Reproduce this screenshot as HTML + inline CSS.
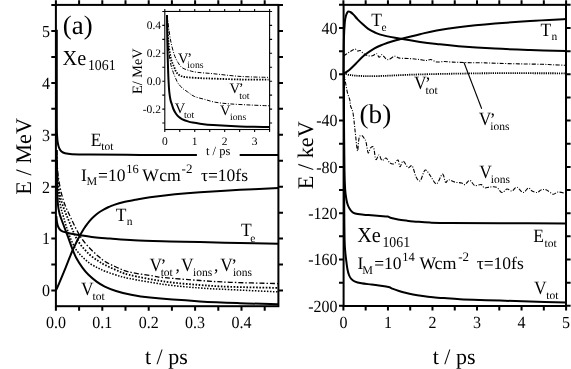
<!DOCTYPE html>
<html><head><meta charset="utf-8"><style>
html,body{margin:0;padding:0;background:#fff;}
svg{display:block;will-change:transform;}
text{font-family:"Liberation Serif",serif;fill:#000;white-space:pre;text-rendering:geometricPrecision;}
</style></head><body>
<svg width="571" height="369" viewBox="0 0 571 369">
<rect width="571" height="369" fill="#fff"/>
<rect x="55.90" y="4.90" width="222.50" height="301.30" fill="none" stroke="#000" stroke-width="2.00"/>
<path d="M55.90,4.90V0.30M55.90,306.20V310.80M79.10,4.90V0.30M79.10,306.20V310.80M102.30,4.90V0.30M102.30,306.20V310.80M125.50,4.90V0.30M125.50,306.20V310.80M148.70,4.90V0.30M148.70,306.20V310.80M171.90,4.90V0.30M171.90,306.20V310.80M195.10,4.90V0.30M195.10,306.20V310.80M218.30,4.90V0.30M218.30,306.20V310.80M241.50,4.90V0.30M241.50,306.20V310.80M264.70,4.90V0.30M264.70,306.20V310.80M55.90,290.50H51.30M278.40,290.50H283.00M55.90,264.55H51.30M278.40,264.55H283.00M55.90,238.60H51.30M278.40,238.60H283.00M55.90,212.65H51.30M278.40,212.65H283.00M55.90,186.70H51.30M278.40,186.70H283.00M55.90,160.75H51.30M278.40,160.75H283.00M55.90,134.80H51.30M278.40,134.80H283.00M55.90,108.85H51.30M278.40,108.85H283.00M55.90,82.90H51.30M278.40,82.90H283.00M55.90,56.95H51.30M278.40,56.95H283.00M55.90,31.00H51.30M278.40,31.00H283.00M55.90,5.05H51.30M278.40,5.05H283.00" stroke="#000" stroke-width="2.00" fill="none"/>
<rect x="343.60" y="4.85" width="222.40" height="301.15" fill="none" stroke="#000" stroke-width="2.00"/>
<path d="M343.40,4.85V0.25M343.40,306.00V310.60M365.67,4.85V0.25M365.67,306.00V310.60M387.94,4.85V0.25M387.94,306.00V310.60M410.21,4.85V0.25M410.21,306.00V310.60M432.48,4.85V0.25M432.48,306.00V310.60M454.75,4.85V0.25M454.75,306.00V310.60M477.02,4.85V0.25M477.02,306.00V310.60M499.29,4.85V0.25M499.29,306.00V310.60M521.56,4.85V0.25M521.56,306.00V310.60M543.83,4.85V0.25M543.83,306.00V310.60M566.10,4.85V0.25M566.10,306.00V310.60M343.60,4.85H339.00M566.00,4.85H570.60M343.60,28.00H339.00M566.00,28.00H570.60M343.60,51.15H339.00M566.00,51.15H570.60M343.60,74.30H339.00M566.00,74.30H570.60M343.60,97.45H339.00M566.00,97.45H570.60M343.60,120.60H339.00M566.00,120.60H570.60M343.60,143.75H339.00M566.00,143.75H570.60M343.60,166.90H339.00M566.00,166.90H570.60M343.60,190.05H339.00M566.00,190.05H570.60M343.60,213.20H339.00M566.00,213.20H570.60M343.60,236.35H339.00M566.00,236.35H570.60M343.60,259.50H339.00M566.00,259.50H570.60M343.60,282.65H339.00M566.00,282.65H570.60M343.60,305.80H339.00M566.00,305.80H570.60" stroke="#000" stroke-width="2.00" fill="none"/>
<path d="M56.80,29.80 C56.80,44.83 56.75,102.30 56.80,120.00 C56.85,137.70 56.93,132.17 57.10,136.00 C57.27,139.83 57.45,140.97 57.80,143.00 C58.15,145.03 58.58,146.77 59.20,148.20 C59.82,149.63 60.53,150.75 61.50,151.60 C62.47,152.45 63.25,152.87 65.00,153.30 C66.75,153.73 67.83,153.98 72.00,154.20 C76.17,154.42 78.67,154.48 90.00,154.60 C101.33,154.72 122.18,154.83 140.00,154.90 C157.82,154.97 187.42,154.98 196.90,155.00" fill="none" stroke="#000" stroke-width="2.00" stroke-linejoin="round"/>
<path d="M239.70,155.00 L278.40,155.00" fill="none" stroke="#000" stroke-width="2.00" stroke-linejoin="round"/>
<path d="M56.30,216.00 C56.42,217.08 56.67,220.67 57.00,222.50 C57.33,224.33 57.75,225.75 58.30,227.00 C58.85,228.25 59.52,229.23 60.30,230.00 C61.08,230.77 61.38,231.03 63.00,231.60 C64.62,232.17 67.17,232.80 70.00,233.40 C72.83,234.00 76.00,234.55 80.00,235.20 C84.00,235.85 89.00,236.73 94.00,237.30 C99.00,237.87 103.33,238.10 110.00,238.60 C116.67,239.10 124.00,239.83 134.00,240.30 C144.00,240.77 159.00,241.10 170.00,241.40 C181.00,241.70 188.33,241.83 200.00,242.10 C211.67,242.37 226.93,242.72 240.00,243.00 C253.07,243.28 272.00,243.67 278.40,243.80" fill="none" stroke="#000" stroke-width="2.00" stroke-linejoin="round"/>
<path d="M55.90,290.40 C56.13,289.92 56.73,288.77 57.30,287.50 C57.87,286.23 58.23,285.33 59.30,282.80 C60.37,280.27 62.23,275.87 63.70,272.30 C65.17,268.73 66.67,264.95 68.10,261.40 C69.53,257.85 70.93,254.15 72.30,251.00 C73.67,247.85 75.17,244.83 76.30,242.50 C77.43,240.17 77.97,239.08 79.10,237.00 C80.23,234.92 82.12,231.65 83.10,230.00 C84.08,228.35 83.90,228.63 85.00,227.10 C86.10,225.57 88.12,222.65 89.70,220.80 C91.28,218.95 92.92,217.43 94.50,216.00 C96.08,214.57 97.62,213.32 99.20,212.20 C100.78,211.08 102.42,210.17 104.00,209.30 C105.58,208.43 107.12,207.70 108.70,207.00 C110.28,206.30 111.12,205.90 113.50,205.10 C115.88,204.30 119.42,203.08 123.00,202.20 C126.58,201.32 130.50,200.62 135.00,199.80 C139.50,198.98 143.33,198.22 150.00,197.30 C156.67,196.38 166.67,195.15 175.00,194.30 C183.33,193.45 189.17,192.95 200.00,192.20 C210.83,191.45 226.93,190.48 240.00,189.80 C253.07,189.12 272.00,188.38 278.40,188.10" fill="none" stroke="#000" stroke-width="2.00" stroke-linejoin="round"/>
<path d="M56.70,150.00 C56.78,156.67 56.98,180.83 57.20,190.00 C57.42,199.17 57.62,201.08 58.00,205.00 C58.38,208.92 58.92,211.08 59.50,213.50 C60.08,215.92 60.73,217.33 61.50,219.50 C62.27,221.67 62.98,223.52 64.10,226.50 C65.22,229.48 66.83,233.68 68.20,237.40 C69.57,241.12 70.95,245.37 72.30,248.80 C73.65,252.23 74.62,254.87 76.30,258.00 C77.98,261.13 80.37,264.80 82.40,267.60 C84.43,270.40 86.13,272.47 88.50,274.80 C90.87,277.13 93.88,279.63 96.60,281.60 C99.32,283.57 101.57,285.03 104.80,286.60 C108.03,288.17 111.80,289.67 116.00,291.00 C120.20,292.33 124.33,293.50 130.00,294.60 C135.67,295.70 138.33,296.47 150.00,297.60 C161.67,298.73 185.00,300.47 200.00,301.40 C215.00,302.33 226.93,302.73 240.00,303.20 C253.07,303.67 272.00,304.03 278.40,304.20" fill="none" stroke="#000" stroke-width="2.00" stroke-linejoin="round"/>
<path d="M56.80,150.00 C56.93,153.33 57.18,164.50 57.60,170.00 C58.02,175.50 58.60,178.83 59.30,183.00 C60.00,187.17 60.85,191.33 61.80,195.00 C62.75,198.67 63.80,201.83 65.00,205.00 C66.20,208.17 67.67,211.08 69.00,214.00 C70.33,216.92 71.67,219.75 73.00,222.50 C74.33,225.25 75.50,227.75 77.00,230.50 C78.50,233.25 79.83,236.00 82.00,239.00 C84.17,242.00 87.33,245.67 90.00,248.50 C92.67,251.33 95.50,253.83 98.00,256.00 C100.50,258.17 102.00,259.67 105.00,261.50 C108.00,263.33 111.93,265.25 116.00,267.00 C120.07,268.75 123.10,270.48 129.40,272.00 C135.70,273.52 147.87,275.15 153.80,276.10 C159.73,277.05 157.30,276.97 165.00,277.70 C172.70,278.43 189.17,279.73 200.00,280.50 C210.83,281.27 216.93,281.78 230.00,282.30 C243.07,282.82 270.33,283.38 278.40,283.60" fill="none" stroke="#000" stroke-width="1.30" stroke-dasharray="5,2,1.5,2" stroke-linejoin="round"/>
<path d="M56.80,160.00 C56.93,162.83 57.18,171.67 57.60,177.00 C58.02,182.33 58.60,187.75 59.30,192.00 C60.00,196.25 60.85,199.25 61.80,202.50 C62.75,205.75 63.88,208.58 65.00,211.50 C66.12,214.42 67.33,217.17 68.50,220.00 C69.67,222.83 70.75,225.58 72.00,228.50 C73.25,231.42 74.33,234.50 76.00,237.50 C77.67,240.50 79.67,243.58 82.00,246.50 C84.33,249.42 87.33,252.62 90.00,255.00 C92.67,257.38 95.50,259.13 98.00,260.80 C100.50,262.47 102.00,263.47 105.00,265.00 C108.00,266.53 111.93,268.35 116.00,270.00 C120.07,271.65 121.23,272.97 129.40,274.90 C137.57,276.83 153.23,279.92 165.00,281.60 C176.77,283.28 189.17,284.13 200.00,285.00 C210.83,285.87 216.93,286.32 230.00,286.80 C243.07,287.28 270.33,287.72 278.40,287.90" fill="none" stroke="#000" stroke-width="1.80" stroke-dasharray="1.6,1.6" stroke-linejoin="round"/>
<path d="M56.80,165.00 C56.93,167.83 57.23,176.67 57.60,182.00 C57.97,187.33 58.43,192.67 59.00,197.00 C59.57,201.33 60.25,204.67 61.00,208.00 C61.75,211.33 62.50,213.58 63.50,217.00 C64.50,220.42 65.72,224.67 67.00,228.50 C68.28,232.33 69.70,236.50 71.20,240.00 C72.70,243.50 74.20,246.75 76.00,249.50 C77.80,252.25 79.67,254.17 82.00,256.50 C84.33,258.83 87.33,261.58 90.00,263.50 C92.67,265.42 95.50,266.72 98.00,268.00 C100.50,269.28 102.00,270.03 105.00,271.20 C108.00,272.37 111.93,273.78 116.00,275.00 C120.07,276.22 121.23,276.90 129.40,278.50 C137.57,280.10 153.23,283.02 165.00,284.60 C176.77,286.18 189.17,287.17 200.00,288.00 C210.83,288.83 216.93,288.95 230.00,289.60 C243.07,290.25 270.33,291.52 278.40,291.90" fill="none" stroke="#000" stroke-width="1.50" stroke-dasharray="1.5,1.5" stroke-linejoin="round"/>
<rect x="128" y="7" width="145" height="140" fill="#fff"/>
<rect x="198" y="146" width="41" height="12" fill="#fff"/>
<rect x="164.80" y="11.45" width="104.80" height="118.05" fill="none" stroke="#000" stroke-width="1.10"/><path d="M164.80,11.45V8.95M164.80,129.50V132.00M179.77,11.45V8.95M179.77,129.50V132.00M194.74,11.45V8.95M194.74,129.50V132.00M209.71,11.45V8.95M209.71,129.50V132.00M224.68,11.45V8.95M224.68,129.50V132.00M239.65,11.45V8.95M239.65,129.50V132.00M254.62,11.45V8.95M254.62,129.50V132.00M269.59,11.45V8.95M269.59,129.50V132.00M164.80,11.45H162.30M269.60,11.45H272.10M164.80,25.40H162.30M269.60,25.40H272.10M164.80,39.35H162.30M269.60,39.35H272.10M164.80,53.30H162.30M269.60,53.30H272.10M164.80,67.25H162.30M269.60,67.25H272.10M164.80,81.20H162.30M269.60,81.20H272.10M164.80,95.15H162.30M269.60,95.15H272.10M164.80,109.10H162.30M269.60,109.10H272.10M164.80,123.05H162.30M269.60,123.05H272.10" stroke="#000" stroke-width="1.10" fill="none"/>
<path d="M167.00,15.00 C167.05,19.17 167.17,32.50 167.30,40.00 C167.43,47.50 167.60,53.33 167.80,60.00 C168.00,66.67 168.25,74.67 168.50,80.00 C168.75,85.33 168.97,88.67 169.30,92.00 C169.63,95.33 170.05,97.87 170.50,100.00 C170.95,102.13 171.52,103.30 172.00,104.80 C172.48,106.30 172.73,107.50 173.40,109.00 C174.07,110.50 175.08,112.47 176.00,113.80 C176.92,115.13 177.92,116.12 178.90,117.00 C179.88,117.88 180.40,118.37 181.90,119.10 C183.40,119.83 186.10,120.82 187.90,121.40 C189.70,121.98 190.68,122.22 192.70,122.60 C194.72,122.98 196.60,123.30 200.00,123.70 C203.40,124.10 206.43,124.55 213.10,125.00 C219.77,125.45 230.63,126.05 240.00,126.40 C249.37,126.75 264.42,126.98 269.30,127.10" fill="none" stroke="#000" stroke-width="2.00" stroke-linejoin="round"/>
<path d="M166.90,15.00 C167.08,19.58 167.43,34.67 168.00,42.50 C168.57,50.33 169.42,57.00 170.30,62.00 C171.18,67.00 172.28,69.50 173.30,72.50 C174.32,75.50 175.63,78.25 176.40,80.00 C177.17,81.75 176.90,81.63 177.90,83.00 C178.90,84.37 180.78,86.72 182.40,88.20 C184.02,89.68 185.62,90.53 187.60,91.90 C189.58,93.27 191.45,95.15 194.30,96.40 C197.15,97.65 201.23,98.43 204.70,99.40 C208.17,100.37 210.88,101.45 215.10,102.20 C219.32,102.95 224.18,103.43 230.00,103.90 C235.82,104.37 243.45,104.68 250.00,105.00 C256.55,105.32 266.08,105.67 269.30,105.80" fill="none" stroke="#000" stroke-width="1.00" stroke-dasharray="4,1.5,1,1.5" stroke-linejoin="round"/>
<path d="M166.90,15.00 C167.17,19.58 167.82,35.20 168.50,42.50 C169.18,49.80 170.05,54.72 171.00,58.80 C171.95,62.88 173.32,64.80 174.20,67.00 C175.08,69.20 175.33,70.58 176.30,72.00 C177.27,73.42 178.42,74.65 180.00,75.50 C181.58,76.35 182.30,76.65 185.80,77.10 C189.30,77.55 196.45,77.95 201.00,78.20 C205.55,78.45 206.60,78.38 213.10,78.60 C219.60,78.82 230.77,79.33 240.00,79.50 C249.23,79.67 263.75,79.58 268.50,79.60" fill="none" stroke="#000" stroke-width="1.80" stroke-dasharray="1.5,1.3" stroke-linejoin="round"/>
<path d="M166.90,15.00 C167.25,17.50 168.32,25.42 169.00,30.00 C169.68,34.58 170.10,38.33 171.00,42.50 C171.90,46.67 173.23,51.67 174.40,55.00 C175.57,58.33 176.73,60.40 178.00,62.50 C179.27,64.60 180.17,66.27 182.00,67.60 C183.83,68.93 186.47,69.72 189.00,70.50 C191.53,71.28 193.18,71.77 197.20,72.30 C201.22,72.83 205.97,73.02 213.10,73.70 C220.23,74.38 230.77,75.78 240.00,76.40 C249.23,77.02 263.75,77.23 268.50,77.40" fill="none" stroke="#000" stroke-width="1.00" stroke-dasharray="4,1.5,1,1.5" stroke-linejoin="round"/>
<path d="M343.50,73.70 C343.57,68.08 343.68,48.53 343.90,40.00 C344.12,31.47 344.45,26.58 344.80,22.50 C345.15,18.42 345.47,17.32 346.00,15.50 C346.53,13.68 347.28,12.18 348.00,11.60 C348.72,11.02 349.38,11.50 350.30,12.00 C351.22,12.50 352.32,13.42 353.50,14.60 C354.68,15.78 355.98,17.62 357.40,19.10 C358.82,20.58 360.20,21.87 362.00,23.50 C363.80,25.13 366.03,27.40 368.20,28.90 C370.37,30.40 372.47,31.42 375.00,32.50 C377.53,33.58 379.12,34.35 383.40,35.40 C387.68,36.45 394.60,37.72 400.70,38.80 C406.80,39.88 414.00,41.03 420.00,41.90 C426.00,42.77 430.30,43.28 436.70,44.00 C443.10,44.72 448.68,45.43 458.40,46.20 C468.12,46.97 483.07,47.97 495.00,48.60 C506.93,49.23 518.20,49.60 530.00,50.00 C541.80,50.40 559.83,50.83 565.80,51.00" fill="none" stroke="#000" stroke-width="2.00" stroke-linejoin="round"/>
<path d="M343.50,73.70 C344.47,73.08 347.22,71.70 349.30,70.00 C351.38,68.30 353.55,65.90 356.00,63.50 C358.45,61.10 360.92,58.13 364.00,55.60 C367.08,53.07 371.27,50.17 374.50,48.30 C377.73,46.43 380.25,45.62 383.40,44.40 C386.55,43.18 390.52,41.90 393.40,41.00 C396.28,40.10 396.27,40.13 400.70,39.00 C405.13,37.87 414.00,35.62 420.00,34.20 C426.00,32.78 430.30,31.65 436.70,30.50 C443.10,29.35 448.68,28.45 458.40,27.30 C468.12,26.15 483.07,24.65 495.00,23.60 C506.93,22.55 518.20,21.75 530.00,21.00 C541.80,20.25 559.83,19.42 565.80,19.10" fill="none" stroke="#000" stroke-width="2.00" stroke-linejoin="round"/>
<path d="M343.80,56.00 C344.25,55.67 345.58,54.65 346.50,54.00 C347.42,53.35 348.38,52.68 349.30,52.10 C350.22,51.52 351.03,51.02 352.00,50.50 C352.97,49.98 354.15,48.92 355.10,49.00 C356.05,49.08 356.83,50.75 357.70,51.00 C358.57,51.25 359.42,50.15 360.30,50.50 C361.18,50.85 362.13,52.38 363.00,53.10 C363.87,53.82 364.63,54.35 365.50,54.80 C366.37,55.25 367.05,55.63 368.20,55.80 C369.35,55.97 371.00,56.15 372.40,55.80 C373.80,55.45 375.47,53.45 376.60,53.70 C377.73,53.95 378.32,57.13 379.20,57.30 C380.08,57.47 380.75,54.43 381.90,54.70 C383.05,54.97 384.88,58.12 386.10,58.90 C387.32,59.68 387.80,59.83 389.20,59.40 C390.60,58.97 392.92,56.55 394.50,56.30 C396.08,56.05 397.53,57.57 398.70,57.90 C399.87,58.23 399.95,58.20 401.50,58.30 C403.05,58.40 405.80,58.38 408.00,58.50 C410.20,58.62 412.70,58.82 414.70,59.00 C416.70,59.18 418.03,59.35 420.00,59.60 C421.97,59.85 424.68,60.52 426.50,60.50 C428.32,60.48 429.18,59.25 430.90,59.50 C432.62,59.75 434.60,61.67 436.80,62.00 C439.00,62.33 441.73,61.50 444.10,61.50 C446.47,61.50 448.55,61.87 451.00,62.00 C453.45,62.13 455.53,62.18 458.80,62.30 C462.07,62.42 466.48,62.62 470.60,62.70 C474.72,62.78 479.10,62.70 483.50,62.80 C487.90,62.90 492.23,63.15 497.00,63.30 C501.77,63.45 507.10,63.58 512.10,63.70 C517.10,63.82 521.98,63.90 527.00,64.00 C532.02,64.10 537.87,64.17 542.20,64.30 C546.53,64.43 549.07,64.63 553.00,64.80 C556.93,64.97 563.67,65.22 565.80,65.30" fill="none" stroke="#000" stroke-width="1.10" stroke-dasharray="4,1.5,1,1.5" stroke-linejoin="round"/>
<path d="M343.60,73.20 C344.50,73.47 347.10,74.40 349.00,74.80 C350.90,75.20 352.17,75.38 355.00,75.60 C357.83,75.82 361.83,76.03 366.00,76.10 C370.17,76.17 375.17,76.12 380.00,76.00 C384.83,75.88 388.33,75.67 395.00,75.40 C401.67,75.13 409.17,74.70 420.00,74.40 C430.83,74.10 447.50,73.80 460.00,73.60 C472.50,73.40 477.37,73.25 495.00,73.20 C512.63,73.15 554.00,73.28 565.80,73.30" fill="none" stroke="#000" stroke-width="1.80" stroke-dasharray="1.2,1.0" stroke-linejoin="round"/>
<path d="M344.10,73.80 C344.32,75.17 344.85,78.88 345.40,82.00 C345.95,85.12 346.67,89.50 347.40,92.50 C348.13,95.50 349.27,97.75 349.80,100.00 C350.33,102.25 350.07,103.83 350.60,106.00 C351.13,108.17 352.27,109.00 353.00,113.00 C353.73,117.00 354.27,123.72 355.00,130.00 C355.73,136.28 356.82,148.70 357.40,150.70 C357.98,152.70 358.15,144.35 358.50,142.00 C358.85,139.65 358.97,137.68 359.50,136.60 C360.03,135.52 360.95,135.27 361.70,135.50 C362.45,135.73 363.28,136.92 364.00,138.00 C364.72,139.08 365.30,139.52 366.00,142.00 C366.70,144.48 367.45,151.90 368.20,152.90 C368.95,153.90 369.60,148.90 370.50,148.00 C371.40,147.10 372.72,145.60 373.60,147.50 C374.48,149.40 374.90,158.15 375.80,159.40 C376.70,160.65 377.97,154.82 379.00,155.00 C380.03,155.18 380.83,160.00 382.00,160.50 C383.17,161.00 384.67,157.58 386.00,158.00 C387.33,158.42 388.63,162.03 390.00,163.00 C391.37,163.97 392.87,164.30 394.20,163.80 C395.53,163.30 397.03,159.50 398.00,160.00 C398.97,160.50 399.13,166.62 400.00,166.80 C400.87,166.98 401.87,160.97 403.20,161.10 C404.53,161.23 406.50,166.78 408.00,167.60 C409.50,168.42 410.83,164.38 412.20,166.00 C413.57,167.62 414.85,174.87 416.20,177.30 C417.55,179.73 418.80,181.82 420.30,180.60 C421.80,179.38 423.45,170.68 425.20,170.00 C426.95,169.32 428.92,174.20 430.80,176.50 C432.68,178.80 434.55,184.20 436.50,183.80 C438.45,183.40 441.00,174.37 442.50,174.10 C444.00,173.83 444.47,181.25 445.50,182.20 C446.53,183.15 447.08,179.80 448.70,179.80 C450.32,179.80 453.03,181.67 455.20,182.20 C457.37,182.73 460.07,182.60 461.70,183.00 C463.33,183.40 463.65,185.05 465.00,184.60 C466.35,184.15 468.18,180.15 469.80,180.30 C471.42,180.45 472.80,184.78 474.70,185.50 C476.60,186.22 479.58,184.20 481.20,184.60 C482.82,185.00 482.93,187.50 484.40,187.90 C485.87,188.30 487.98,187.12 490.00,187.00 C492.02,186.88 494.52,186.28 496.50,187.20 C498.48,188.12 500.15,192.20 501.90,192.50 C503.65,192.80 505.32,189.25 507.00,189.00 C508.68,188.75 510.35,191.30 512.00,191.00 C513.65,190.70 515.05,186.95 516.90,187.20 C518.75,187.45 521.18,192.37 523.10,192.50 C525.02,192.63 526.92,188.25 528.40,188.00 C529.88,187.75 530.52,190.25 532.00,191.00 C533.48,191.75 535.80,192.67 537.30,192.50 C538.80,192.33 539.53,190.45 541.00,190.00 C542.47,189.55 544.07,189.10 546.10,189.80 C548.13,190.50 551.22,193.83 553.20,194.20 C555.18,194.57 555.90,192.13 558.00,192.00 C560.10,191.87 564.50,193.17 565.80,193.40" fill="none" stroke="#000" stroke-width="1.10" stroke-dasharray="4,1.5,1,1.5" stroke-linejoin="round"/>
<path d="M343.80,73.70 C343.83,81.42 343.90,103.95 344.00,120.00 C344.10,136.05 344.20,158.33 344.40,170.00 C344.60,181.67 344.85,185.00 345.20,190.00 C345.55,195.00 346.07,197.50 346.50,200.00 C346.93,202.50 347.30,203.58 347.80,205.00 C348.30,206.42 348.80,207.37 349.50,208.50 C350.20,209.63 351.05,210.97 352.00,211.80 C352.95,212.63 353.53,213.03 355.20,213.50 C356.87,213.97 359.78,214.33 362.00,214.60 C364.22,214.87 365.50,214.87 368.50,215.10 C371.50,215.33 376.83,215.75 380.00,216.00 C383.17,216.25 385.62,216.27 387.50,216.60 C389.38,216.93 389.55,217.52 391.30,218.00 C393.05,218.48 395.47,219.07 398.00,219.50 C400.53,219.93 403.17,220.22 406.50,220.60 C409.83,220.98 414.08,221.47 418.00,221.80 C421.92,222.13 424.67,222.38 430.00,222.60 C435.33,222.82 438.33,222.98 450.00,223.10 C461.67,223.22 480.70,223.25 500.00,223.30 C519.30,223.35 554.83,223.38 565.80,223.40" fill="none" stroke="#000" stroke-width="2.00" stroke-linejoin="round"/>
<path d="M343.90,73.70 C343.95,94.75 344.08,172.28 344.20,200.00 C344.32,227.72 344.42,231.33 344.60,240.00 C344.78,248.67 345.02,248.50 345.30,252.00 C345.58,255.50 345.93,258.08 346.30,261.00 C346.67,263.92 347.05,267.17 347.50,269.50 C347.95,271.83 348.42,273.48 349.00,275.00 C349.58,276.52 350.08,277.55 351.00,278.60 C351.92,279.65 352.75,280.52 354.50,281.30 C356.25,282.08 358.67,282.77 361.50,283.30 C364.33,283.83 368.58,284.13 371.50,284.50 C374.42,284.87 376.58,285.15 379.00,285.50 C381.42,285.85 384.25,286.30 386.00,286.60 C387.75,286.90 388.33,286.92 389.50,287.30 C390.67,287.68 391.42,288.28 393.00,288.90 C394.58,289.52 396.95,290.35 399.00,291.00 C401.05,291.65 402.97,292.22 405.30,292.80 C407.63,293.38 410.08,293.97 413.00,294.50 C415.92,295.03 419.47,295.55 422.80,296.00 C426.13,296.45 429.47,296.85 433.00,297.20 C436.53,297.55 439.50,297.77 444.00,298.10 C448.50,298.43 454.00,298.88 460.00,299.20 C466.00,299.52 473.33,299.77 480.00,300.00 C486.67,300.23 491.67,300.35 500.00,300.60 C508.33,300.85 519.03,301.20 530.00,301.50 C540.97,301.80 559.83,302.25 565.80,302.40" fill="none" stroke="#000" stroke-width="2.00" stroke-linejoin="round"/>
<path d="M463.9,62.2L481.7,108.7" stroke="#000" stroke-width="1.1"/>
<text transform="translate(49.90,296.30) scale(0.940,1)" font-size="17.00" text-anchor="end">0</text>
<text transform="translate(49.90,244.40) scale(0.940,1)" font-size="17.00" text-anchor="end">1</text>
<text transform="translate(49.90,192.50) scale(0.940,1)" font-size="17.00" text-anchor="end">2</text>
<text transform="translate(49.90,140.60) scale(0.940,1)" font-size="17.00" text-anchor="end">3</text>
<text transform="translate(49.90,88.70) scale(0.940,1)" font-size="17.00" text-anchor="end">4</text>
<text transform="translate(49.90,36.80) scale(0.940,1)" font-size="17.00" text-anchor="end">5</text>
<text transform="translate(55.90,327.70) scale(0.940,1)" font-size="17.00" text-anchor="middle">0.0</text>
<text transform="translate(102.30,327.70) scale(0.940,1)" font-size="17.00" text-anchor="middle">0.1</text>
<text transform="translate(148.70,327.70) scale(0.940,1)" font-size="17.00" text-anchor="middle">0.2</text>
<text transform="translate(195.10,327.70) scale(0.940,1)" font-size="17.00" text-anchor="middle">0.3</text>
<text transform="translate(241.50,327.70) scale(0.940,1)" font-size="17.00" text-anchor="middle">0.4</text>
<text transform="translate(337.60,33.80) scale(0.940,1)" font-size="17.00" text-anchor="end">40</text>
<text transform="translate(337.60,80.10) scale(0.940,1)" font-size="17.00" text-anchor="end">0</text>
<text transform="translate(337.60,126.40) scale(0.940,1)" font-size="17.00" text-anchor="end">-40</text>
<text transform="translate(337.60,172.70) scale(0.940,1)" font-size="17.00" text-anchor="end">-80</text>
<text transform="translate(337.60,219.00) scale(0.940,1)" font-size="17.00" text-anchor="end">-120</text>
<text transform="translate(337.60,265.30) scale(0.940,1)" font-size="17.00" text-anchor="end">-160</text>
<text transform="translate(337.60,311.60) scale(0.940,1)" font-size="17.00" text-anchor="end">-200</text>
<text transform="translate(343.40,328.20) scale(0.940,1)" font-size="17.00" text-anchor="middle">0</text>
<text transform="translate(387.94,328.20) scale(0.940,1)" font-size="17.00" text-anchor="middle">1</text>
<text transform="translate(432.48,328.20) scale(0.940,1)" font-size="17.00" text-anchor="middle">2</text>
<text transform="translate(477.02,328.20) scale(0.940,1)" font-size="17.00" text-anchor="middle">3</text>
<text transform="translate(521.56,328.20) scale(0.940,1)" font-size="17.00" text-anchor="middle">4</text>
<text transform="translate(566.10,328.20) scale(0.940,1)" font-size="17.00" text-anchor="middle">5</text>
<text x="166.40" y="363.90" font-size="22.00" text-anchor="middle">t / ps</text>
<text x="454.10" y="363.90" font-size="22.00" text-anchor="middle">t / ps</text>
<text transform="translate(31.0,156.3) rotate(-90)" font-size="22.3" text-anchor="middle">E / MeV</text>
<text transform="translate(313.1,155.2) rotate(-90)" font-size="22.3" text-anchor="middle">E / keV</text>
<text x="161.00" y="28.80" font-size="11.50" text-anchor="end">0.4</text>
<text x="161.00" y="56.70" font-size="11.50" text-anchor="end">0.2</text>
<text x="161.00" y="84.60" font-size="11.50" text-anchor="end">0.0</text>
<text x="161.00" y="112.50" font-size="11.50" text-anchor="end">-0.2</text>
<text x="164.80" y="144.60" font-size="11.50" text-anchor="middle">0</text>
<text x="194.74" y="144.60" font-size="11.50" text-anchor="middle">1</text>
<text x="224.68" y="144.60" font-size="11.50" text-anchor="middle">2</text>
<text x="254.62" y="144.60" font-size="11.50" text-anchor="middle">3</text>
<text x="218.10" y="155.10" font-size="12.50" text-anchor="middle">t / ps</text>
<text transform="translate(142.0,71.2) rotate(-90)" font-size="14.3" text-anchor="middle">E/ MeV</text>
<text transform="translate(177.89,62.80) scale(1,1.000)" font-size="14.50">V</text><text x="187.20" y="62.80" font-size="14.50">’</text><text x="187.35" y="67.60" font-size="9.70">ions</text>
<text transform="translate(229.49,92.70) scale(1,1.000)" font-size="14.50">V</text><text x="238.80" y="92.70" font-size="14.50">’</text><text x="239.26" y="98.50" font-size="9.70">tot</text>
<text transform="translate(219.89,114.90) scale(1,1.000)" font-size="14.50">V</text><text x="230.05" y="120.10" font-size="9.70">ions</text>
<text transform="translate(174.69,112.80) scale(1,1.000)" font-size="14.50">V</text><text x="183.96" y="117.50" font-size="9.70">tot</text>
<text x="62.87" y="34.00" font-size="26.80">(a)</text>
<text transform="translate(62.50,64.60) scale(1.000,1.050)" font-size="20.30">Xe</text>
<text transform="translate(87.94,70.40) scale(0.920,1.000)" font-size="15.00">1061</text>
<text transform="translate(90.65,145.60) scale(1,1.080)" font-size="17.50">E</text><text x="101.24" y="150.20" font-size="11.50">tot</text>
<text x="81.02" y="180.90" font-size="17.50">I</text>
<text x="86.50" y="184.90" font-size="12.00">M</text>
<text x="98.08" y="180.90" font-size="17.50">=10</text>
<text x="126.35" y="173.00" font-size="12.50">16</text>
<text x="142.33" y="180.90" font-size="17.50">W</text>
<text x="159.20" y="180.90" font-size="17.5" textLength="21.6" lengthAdjust="spacingAndGlyphs">cm</text>
<text x="181.57" y="173.10" font-size="13.00">-2</text>
<text x="200.97" y="180.90" font-size="17.50">τ=10fs</text>
<text transform="translate(115.63,220.70) scale(1,1.080)" font-size="17.50">T</text><text x="126.69" y="225.40" font-size="11.50">n</text>
<text transform="translate(240.93,235.70) scale(1,1.080)" font-size="17.50">T</text><text x="250.30" y="241.50" font-size="11.50">e</text>
<text transform="translate(149.55,270.50) scale(1,1.080)" font-size="17.50">V</text><text x="160.62" y="270.50" font-size="17.50">’</text><text x="160.64" y="276.20" font-size="11.50">tot</text>
<text x="175.58" y="270.50" font-size="17.50">,</text>
<text transform="translate(180.95,270.50) scale(1,1.080)" font-size="17.50">V</text><text x="193.11" y="276.00" font-size="11.50">ions</text>
<text x="214.08" y="270.50" font-size="17.50">,</text>
<text transform="translate(220.25,270.50) scale(1,1.080)" font-size="17.50">V</text><text x="231.32" y="270.50" font-size="17.50">’</text><text x="232.91" y="275.80" font-size="11.50">ions</text>
<text transform="translate(80.95,295.00) scale(1,1.080)" font-size="17.50">V</text><text x="92.54" y="300.20" font-size="11.50">tot</text>
<text transform="translate(371.23,26.40) scale(1,1.080)" font-size="17.50">T</text><text x="381.60" y="31.30" font-size="11.50">e</text>
<text transform="translate(540.53,35.50) scale(1,1.080)" font-size="17.50">T</text><text x="551.39" y="40.30" font-size="11.50">n</text>
<text transform="translate(414.05,88.80) scale(1,1.080)" font-size="17.50">V</text><text x="425.12" y="88.80" font-size="17.50">’</text><text x="425.54" y="94.40" font-size="11.50">tot</text>
<text transform="translate(478.75,124.90) scale(1,1.080)" font-size="17.50">V</text><text x="489.82" y="124.90" font-size="17.50">’</text><text x="490.31" y="129.80" font-size="11.50">ions</text>
<text x="359.55" y="123.00" font-size="27.20">(b)</text>
<text transform="translate(479.25,178.00) scale(1,1.080)" font-size="17.50">V</text><text x="490.71" y="183.40" font-size="11.50">ions</text>
<text transform="translate(533.25,241.50) scale(1,1.080)" font-size="17.50">E</text><text x="544.44" y="246.80" font-size="11.50">tot</text>
<text transform="translate(357.20,241.50) scale(1.000,1.050)" font-size="20.30">Xe</text>
<text transform="translate(382.44,247.40) scale(0.920,1.000)" font-size="15.00">1061</text>
<text x="357.62" y="269.00" font-size="17.50">I</text>
<text x="362.30" y="274.20" font-size="12.00">M</text>
<text x="374.18" y="269.00" font-size="17.50">=10</text>
<text x="402.15" y="260.60" font-size="12.50">14</text>
<text x="419.53" y="269.00" font-size="17.50">W</text>
<text x="434.40" y="269.00" font-size="17.5" textLength="22.0" lengthAdjust="spacingAndGlyphs">cm</text>
<text x="458.17" y="261.20" font-size="13.00">-2</text>
<text x="476.67" y="269.00" font-size="17.50">τ=10fs</text>
<text transform="translate(533.95,293.70) scale(1,1.080)" font-size="17.50">V</text><text x="546.24" y="299.00" font-size="11.50">tot</text>
</svg></body></html>
